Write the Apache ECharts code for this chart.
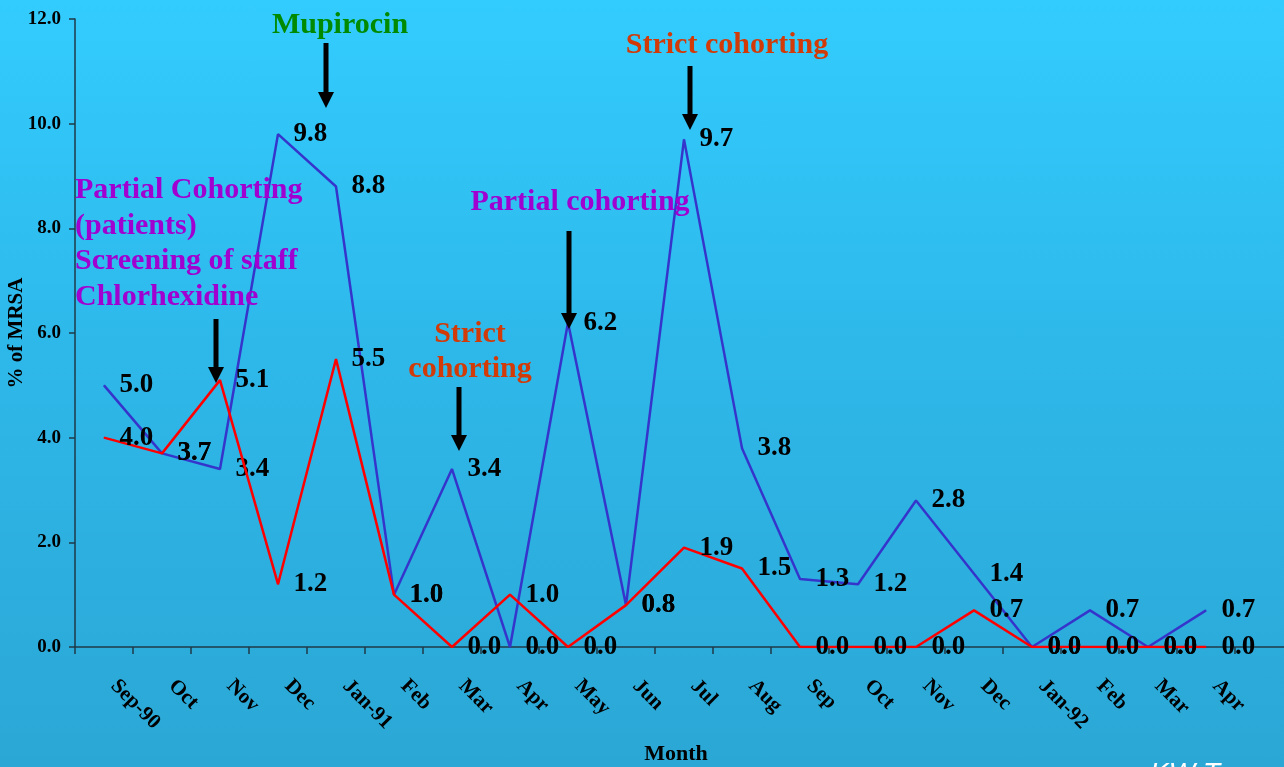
<!DOCTYPE html>
<html>
<head>
<meta charset="utf-8">
<script src="https://cdn.jsdelivr.net/npm/echarts@6/dist/echarts.min.js"></script>
<style>
html,body{margin:0;padding:0;}
#chart{width:1284px;height:767px;background:linear-gradient(to bottom,#33CCFE 0%,#2EB8EA 45%,#2BA7D5 100%);}
</style>
</head>
<body>
<div id="chart"></div>
<script>
// ---- data ----
var categories = ['Sep-90','Oct','Nov','Dec','Jan-91','Feb','Mar','Apr','May','Jun','Jul','Aug','Sep','Oct','Nov','Dec','Jan-92','Feb','Mar','Apr'];
var blueValues = [5.0,3.7,3.4,9.8,8.8,1.0,3.4,0.0,6.2,0.8,9.7,3.8,1.3,1.2,2.8,1.4,0.0,0.7,0.0,0.7];
var redValues  = [4.0,3.7,5.1,1.2,5.5,1.0,0.0,1.0,0.0,0.8,1.9,1.5,0.0,0.0,0.0,0.7,0.0,0.0,0.0,0.0];
var yTicks = [0,2,4,6,8,10,12];
var yAxisTitle = '% of MRSA';
var xAxisTitle = 'Month';

var SERIF = '"Liberation Serif","Times New Roman",serif';
var chart = echarts.init(document.getElementById('chart'), null, {renderer:'canvas'});

function arrow(x, top, tip){
  return [
    {type:'rect', shape:{x:x-2.5, y:top, width:5, height:tip-top-14}, style:{fill:'#000'}, z:100},
    {type:'polygon', shape:{points:[[x-8,tip-16],[x+8,tip-16],[x,tip]]}, style:{fill:'#000'}, z:100}
  ];
}
function txt(text, x, y, color, align){
  return {type:'text', x:x, y:y, z:100, style:{text:text, fill:color, font:'bold 30px '+SERIF, textAlign:align||'center', textVerticalAlign:'middle'}};
}

var graphics = [].concat(
  [txt('Mupirocin', 340, 25, '#008A00')],
  arrow(326, 43, 108),
  [txt('Strict cohorting', 727, 45, '#D23A08')],
  arrow(690, 66, 130),
  [txt('Partial Cohorting', 75, 190, '#A000D0','left'),
   txt('(patients)', 75, 226, '#A000D0','left'),
   txt('Screening of staff', 75, 261, '#A000D0','left'),
   txt('Chlorhexidine', 75, 297, '#A000D0','left')],
  arrow(216, 319, 383),
  [txt('Partial cohorting', 580, 202, '#A000D0')],
  arrow(569, 231, 329),
  [txt('Strict', 470, 334, '#D23A08'), txt('cohorting', 470, 369, '#D23A08')],
  arrow(459, 387, 451),
  [{type:'text', x:676, y:754, z:100, style:{text:xAxisTitle, fill:'#000', font:'bold 22px '+SERIF, textAlign:'center', textVerticalAlign:'middle'}},
   {type:'text', x:1150, y:760, z:100, style:{text:'KW T', fill:'#fff', font:'italic 28px "Liberation Sans",Arial,sans-serif', textAlign:'left', textVerticalAlign:'top'}}]
);

var labelCfg = {
  show:true, position:'right', distance:15,
  formatter:function(p){ return Number(p.value).toFixed(1); },
  fontFamily:SERIF, fontWeight:'bold', fontSize:27, color:'#000'
};

chart.setOption({
  animation:false,
  backgroundColor:'transparent',
  grid:{left:75, top:19, width:1218, height:628, containLabel:false, outerBoundsMode:'none'},
  xAxis:{
    type:'category', data:categories.concat(['']), boundaryGap:true,
    axisLine:{show:true, lineStyle:{color:'#1E3A48', width:1.5}},
    axisTick:{show:true, inside:false, length:7, lineStyle:{color:'#1E3A48', width:1.5}},
    axisLabel:{interval:0, rotate:-45, margin:26, padding:[0,0,0,14], fontFamily:SERIF, fontWeight:'bold', fontSize:21, color:'#000'},
    splitLine:{show:false}
  },
  yAxis:{
    type:'value', min:yTicks[0], max:yTicks[yTicks.length-1], interval:yTicks[1]-yTicks[0],
    name:yAxisTitle, nameLocation:'middle', nameGap:48, nameRotate:90, nameMoveOverlap:false,
    nameTextStyle:{fontFamily:SERIF, fontWeight:'bold', fontSize:21, color:'#000'},
    axisLine:{show:true, lineStyle:{color:'#1E3A48', width:1.5}},
    axisTick:{show:true, inside:false, length:6, lineStyle:{color:'#1E3A48', width:1.5}},
    axisLabel:{margin:14, formatter:function(v){return v.toFixed(1);}, fontFamily:SERIF, fontWeight:'bold', fontSize:19, color:'#000'},
    splitLine:{show:false}
  },
  series:[
    {type:'line', name:'blue', data:blueValues, symbol:'circle', symbolSize:1, showSymbol:true,
     lineStyle:{color:'#3535CC', width:2.5}, itemStyle:{color:'#3535CC'}, label:labelCfg, z:2},
    {type:'line', name:'red', data:redValues, symbol:'circle', symbolSize:1, showSymbol:true,
     lineStyle:{color:'#FF0000', width:2.5}, itemStyle:{color:'#FF0000'}, label:labelCfg, z:3}
  ],
  graphic:graphics
});
</script>
</body>
</html>
